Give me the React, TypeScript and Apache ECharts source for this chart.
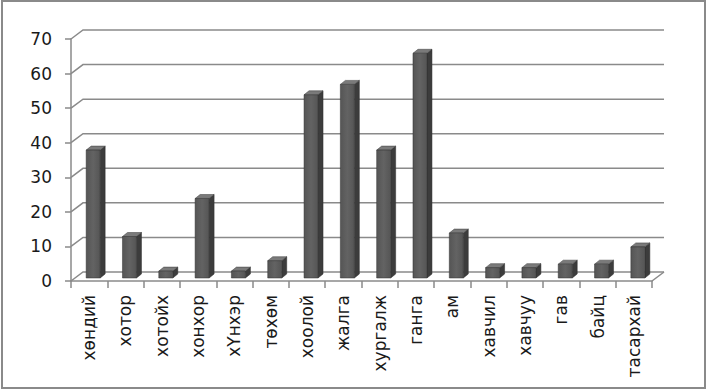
import React, { useEffect, useRef } from "react";
import * as echarts from "echarts";

const categories = [
  "хөндий", "хотор", "хотойх", "хонхор", "хҮнхэр", "төхөм", "хоолой", "жалга",
  "хургалж", "ганга", "ам", "хавчил", "хавчуу", "гав", "байц", "тасархай",
];
const values = [37, 12, 2, 23, 2, 5, 53, 56, 37, 65, 13, 3, 3, 4, 4, 9];
const yTicks = [0, 10, 20, 30, 40, 50, 60, 70];

const DX = 12;
const DY = -9;
const LINE = "#8a8a8a";

export default function App() {
  const ref = useRef<HTMLDivElement>(null);
  useEffect(() => {
    if (!ref.current) return;
    const chart = echarts.init(ref.current, undefined, { renderer: "svg" });
    chart.setOption({
      animation: false,
      backgroundColor: "#ffffff",
      grid: { left: 71, top: 39, width: 581, height: 242 },
      xAxis: {
        type: "category",
        data: categories,
        axisLine: { lineStyle: { color: LINE, width: 1.5 } },
        axisTick: { show: true, length: 7, interval: 0, lineStyle: { color: LINE, width: 1.5 } },
        axisLabel: {
          rotate: 90,
          interval: 0,
          margin: 14,
          fontSize: 17,
          fontFamily: "DejaVu Sans",
          color: "#1a1a1a",
        },
        splitLine: { show: false },
      },
      yAxis: {
        type: "value",
        min: 0,
        max: 70,
        interval: 10,
        axisLine: { show: true, lineStyle: { color: LINE, width: 1.5 } },
        axisTick: { show: true, length: 6, lineStyle: { color: LINE, width: 1.5 } },
        axisLabel: { margin: 19, fontSize: 17, fontFamily: "DejaVu Sans", color: "#1a1a1a" },
        splitLine: { show: false },
      },
      graphic: [
        {
          type: "rect",
          shape: { x: 2, y: 1, width: 703, height: 387 },
          style: { fill: "none", stroke: "#8a8a8a", lineWidth: 2 },
          z: 100,
        },
      ],
      series: [
        {
          type: "custom",
          z: 1,
          silent: true,
          data: yTicks.map((v) => [0, v]),
          renderItem: (params: any, api: any) => {
            const cs = params.coordSys;
            const v = api.value(1);
            const y = api.coord([0, v])[1];
            const children: any[] = [
              {
                type: "polyline",
                shape: {
                  points: [
                    [cs.x, y],
                    [cs.x + DX, y + DY],
                    [cs.x + cs.width + DX, y + DY],
                  ],
                },
                style: { fill: "none", stroke: LINE, lineWidth: 1.5 },
              },
            ];
            if (v === 0) {
              children.push({
                type: "line",
                shape: { x1: cs.x + cs.width, y1: y, x2: cs.x + cs.width + DX, y2: y + DY },
                style: { stroke: LINE, lineWidth: 1.5 },
              });
            }
            return { type: "group", children };
          },
        },
        {
          type: "custom",
          z: 3,
          data: values.map((v, i) => [i, v]),
          renderItem: (params: any, api: any) => {
            const i = api.value(0);
            const v = api.value(1);
            const [cx, yv] = api.coord([i, v]);
            const y0 = api.coord([i, 0])[1];
            const L = cx - 3;
            const W = 14;
            const d = 5;
            const h = -4;
            const top = yv - 3;
            const bot = y0 - 3;
            return {
              type: "group",
              children: [
                {
                  type: "polygon",
                  shape: { points: [[L + W, top], [L + W + d, top + h], [L + W + d, bot + h], [L + W, bot]] },
                  style: { fill: "#3c3c3c", stroke: "#2e2e2e", lineWidth: 0.5 },
                },
                {
                  type: "polygon",
                  shape: { points: [[L, top], [L + d, top + h], [L + W + d, top + h], [L + W, top]] },
                  style: { fill: "#7a7a7a", stroke: "#3a3a3a", lineWidth: 0.5 },
                },
                {
                  type: "rect",
                  shape: { x: L, y: top, width: W, height: bot - top },
                  style: {
                    fill: new echarts.graphic.LinearGradient(0, 0, 1, 0, [
                      { offset: 0, color: "#555555" },
                      { offset: 0.5, color: "#636363" },
                      { offset: 1, color: "#555555" },
                    ]),
                    stroke: "#333333",
                    lineWidth: 0.5,
                  },
                },
              ],
            };
          },
        },
      ],
    });
    return () => chart.dispose();
  }, []);
  return (
    <div
      ref={ref}
      style={{ position: "fixed", left: 0, top: 0, width: 707, height: 391 }}
    />
  );
}
